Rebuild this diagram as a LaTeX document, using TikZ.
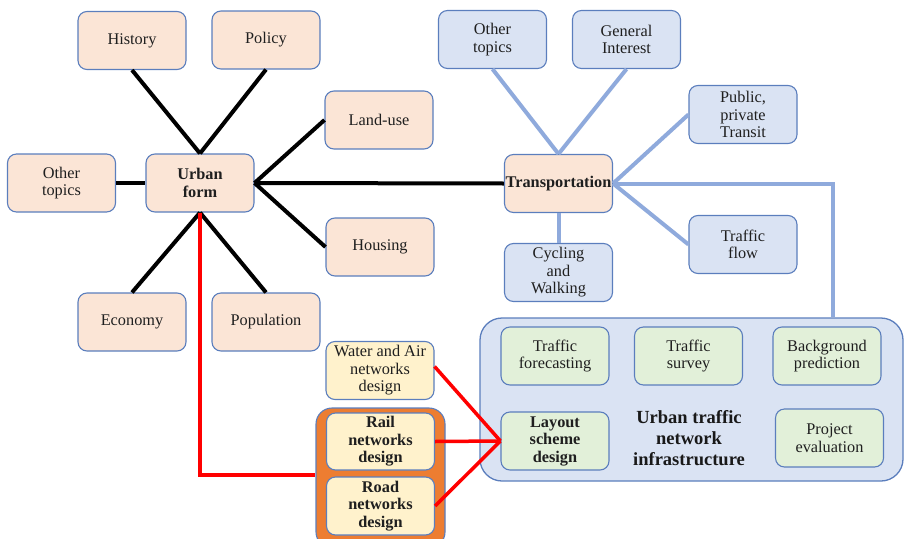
\documentclass[tikz,border=0pt]{standalone}
\usepackage{fontspec}
\setmainfont{Liberation Serif}[BoldFont={Liberation Serif Bold}]
\definecolor{bord}{HTML}{5B7EBD}
\definecolor{peach}{HTML}{FBE5D6}
\definecolor{lblue}{HTML}{DAE3F3}
\definecolor{lgreen}{HTML}{E2F0D9}
\definecolor{lyel}{HTML}{FFF2CC}
\definecolor{orng}{HTML}{ED7D31}
\definecolor{bline}{HTML}{8FAADC}
\definecolor{rline}{HTML}{FF0000}
\tikzset{
  box/.style={draw=bord, line width=1.1pt, rounded corners=9pt, minimum width=108pt, minimum height=58pt,
    inner sep=0pt, align=center, font=\fontsize{16.3}{17.5}\selectfont, text=black!88},
  pbox/.style={box, fill=peach},
  bbox/.style={box, fill=lblue},
  gbox/.style={box, fill=lgreen},
  ybox/.style={box, fill=lyel},
  blk/.style={line width=4pt, black},
  blu/.style={line width=4pt, bline},
  red/.style={line width=3.5pt, rline},
}
\begin{document}
\begin{tikzpicture}[x=1pt,y=-1pt]
\useasboundingbox (0,0) rectangle (904,538);
% urban form cluster
\node[pbox] (hist) at (132,40.5) {History};
\node[pbox] (pol) at (266,40) {Policy};
\node[pbox] (land) at (379,120) {Land-use};
\node[pbox] (oth1) at (61.5,183) {Other\\topics};
\node[pbox] (urban) at (200,183) {\textbf{Urban}\\\textbf{form}};
\node[pbox] (hous) at (380,247) {Housing};
\node[pbox] (econ) at (132,322) {Economy};
\node[pbox] (pop) at (266,322) {Population};
% transportation cluster
\node[pbox] (trans) at (558.5,183.5) {\textbf{Transportation}};
\node[bbox] (oth2) at (492.5,39.5) {Other\\topics};
\node[bbox] (gen) at (626.5,39.5) {General\\Interest};
\node[bbox] (pub) at (743,114.5) {Public,\\private\\Transit};
\node[bbox] (flow) at (743,244.5) {Traffic\\flow};
\node[bbox] (cyc) at (558.5,272.5) {Cycling\\and\\Walking};
% big infrastructure box
\node[draw=bord, line width=1.3pt, fill=lblue, rounded corners=22pt, minimum width=423pt, minimum height=163pt, inner sep=0pt] (infra) at (691.5,399.5) {};
\node[gbox] (fore) at (555,356) {Traffic\\forecasting};
\node[gbox] (surv) at (688.5,356) {Traffic\\survey};
\node[gbox] (back) at (827,356) {Background\\prediction};
\node[gbox] (lay) at (555,441) {\textbf{Layout}\\\textbf{scheme}\\\textbf{design}};
\node[gbox] (proj) at (829.5,438) {Project\\evaluation};
\node[align=center, font=\fontsize{18.5}{21}\selectfont\bfseries, text=black!90] (infl) at (689,438) {Urban traffic\\network\\infrastructure};
% network design group
\node[ybox] (water) at (380,370.5) {Water and Air\\networks\\design};
\node[draw=bord, line width=1.1pt, fill=orng, rounded corners=16pt, minimum width=129pt, minimum height=140pt, inner sep=0pt] (grp) at (380.5,478) {};
\node[ybox, minimum height=57pt] (rail) at (380.5,441.5) {\textbf{Rail}\\\textbf{networks}\\\textbf{design}};
\node[ybox] (road) at (380.5,506) {\textbf{Road}\\\textbf{networks}\\\textbf{design}};
% black connectors
\draw[blk] (hist.south) -- (urban.north);
\draw[blk] (pol.south) -- (urban.north);
\draw[blk] (land.west) -- (urban.east);
\draw[blk] (hous.west) -- (urban.east);
\draw[blk] (oth1.east) -- (urban.west);
\draw[blk] (econ.north) -- (urban.south);
\draw[blk] (pop.north) -- (urban.south);
\draw[blk] (urban.east) -- (trans.west);
% blue connectors
\draw[blu] (oth2.south) -- (trans.north);
\draw[blu] (gen.south) -- (trans.north);
\draw[blu] (pub.west) -- (trans.east);
\draw[blu] (flow.west) -- (trans.east);
\draw[blu] (cyc.north) -- (trans.south);
\coordinate (bc) at (833,183.5);
\draw[blu] (trans.east) -- (bc) -- (bc |- infra.north);
% red connectors
\coordinate (rc) at (200,475);
\draw[red] (urban.south) -- (rc) -- (rc -| grp.west);
\coordinate (wa) at ([yshift=4pt]water.east);
\draw[red] (wa) -- (lay.west);
\draw[red] (rail.east) -- (lay.west);
\draw[red] (road.east) -- (lay.west);
\end{tikzpicture}
\end{document}
